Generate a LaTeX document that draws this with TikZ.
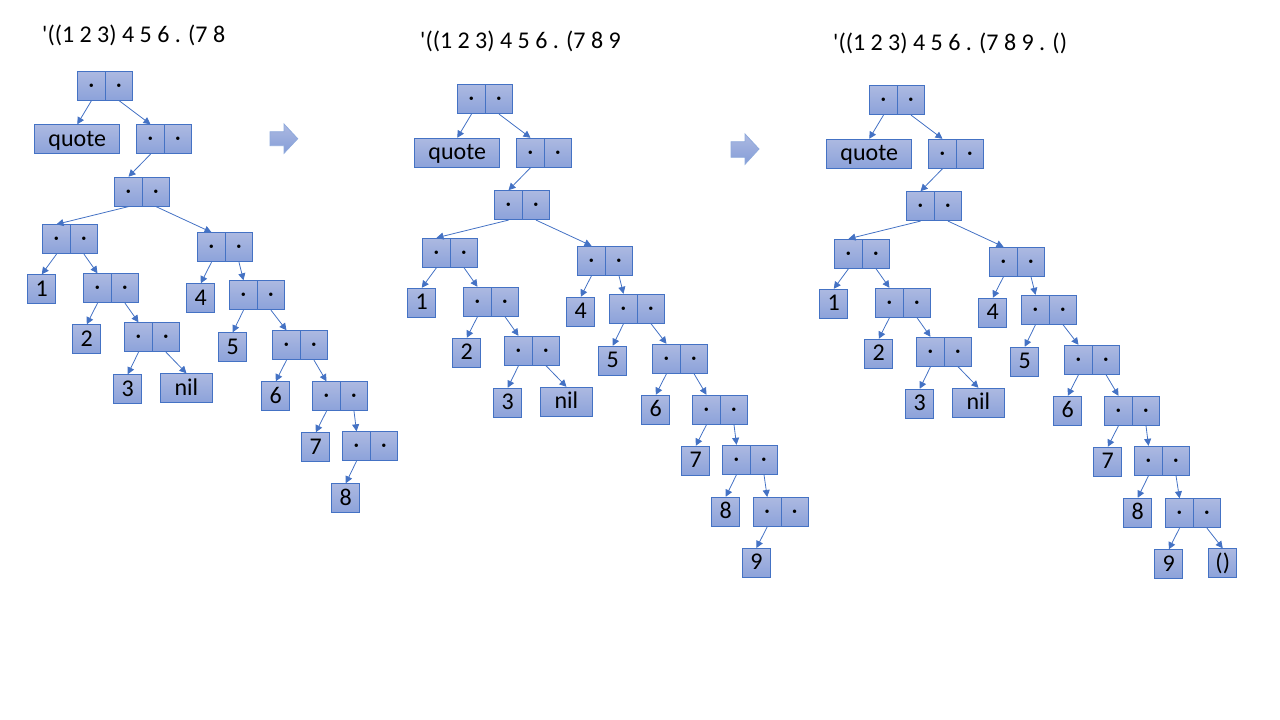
\documentclass[tikz,border=0pt]{standalone}
\usepackage{fontspec}
\setmainfont{Carlito}[Ligatures=TeXOff]
\usetikzlibrary{arrows.meta}
\definecolor{bord}{RGB}{68,114,196}
\definecolor{ftop}{RGB}{172,185,225}
\definecolor{fbot}{RGB}{140,162,218}
\tikzset{
  box/.style={draw=bord, line width=0.9pt, top color=ftop, bottom color=fbot,
    anchor=north west, inner sep=0pt, minimum height=29pt, text=black,
    font=\fontsize{24}{28}\selectfont, text height=14pt, text depth=0pt},
  cellbox/.style={box, minimum width=27.5pt, text height=0pt, text depth=0pt},
  conn/.style={draw=bord, line width=0.8pt, -{Triangle[length=7pt,width=7pt]}},
  title/.style={anchor=base west, inner sep=0pt, font=\fontsize{24}{28}\selectfont},
  blockarrow/.style={draw=bord!60, line width=0.8pt, top color=ftop, bottom color=fbot!90!bord}
}
\newcommand\dotmark{\raisebox{-0.27em}{·}}
\newcommand\cons[3]{%
  \node[cellbox] (#1L) at (#2,#3) {\dotmark};
  \node[cellbox] (#1R) at (#2+27.5,#3) {\dotmark};}
\newcommand\leaf[5][28]{\node[box, minimum width=#1pt] (#2) at (#3,#4) {#5};}
\newcommand\commontree[1]{%
  \cons{#1r}{77.3}{70.7}
  \leaf[85]{#1q}{34.3}{124.3}{quote}
  \cons{#1c2}{136.3}{124.3}
  \cons{#1c3}{114.3}{176.7}
  \cons{#1c4}{42.3}{224.3}
  \cons{#1c5}{197.3}{232.3}
  \leaf{#1n1}{27.3}{274.3}{1}
  \cons{#1c6}{83.3}{273.3}
  \leaf{#1n4}{186.3}{283.3}{4}
  \cons{#1c7}{229.3}{280.3}
  \leaf{#1n2}{72.3}{324.3}{2}
  \cons{#1c8}{124.3}{322.3}
  \leaf{#1n5}{218.3}{332.3}{5}
  \cons{#1c9}{272.3}{330.3}
  \leaf{#1n3}{113.3}{374.3}{3}
  \leaf[51.4]{#1nil}{160.3}{373.3}{nil}
  \leaf{#1n6}{261.3}{381.3}{6}
  \cons{#1c10}{312.3}{381.3}
  \leaf{#1n7}{301.3}{432.3}{7}
  \cons{#1c11}{342.3}{431.3}
  \leaf{#1n8}{331.3}{483.3}{8}
  \draw[conn] (#1rL.south) -- (#1q.north);
  \draw[conn] (#1rR.south) -- (#1c2L.north);
  \draw[conn] (#1c2L.south) -- (#1c3L.north);
  \draw[conn] (#1c3L.south) -- (#1c4L.north);
  \draw[conn] (#1c3R.south) -- (#1c5L.north);
  \draw[conn] (#1c4L.south) -- (#1n1.north);
  \draw[conn] (#1c4R.south) -- (#1c6L.north);
  \draw[conn] (#1c6L.south) -- (#1n2.north);
  \draw[conn] (#1c6R.south) -- (#1c8L.north);
  \draw[conn] (#1c8L.south) -- (#1n3.north);
  \draw[conn] (#1c8R.south) -- (#1nil.north);
  \draw[conn] (#1c5L.south) -- (#1n4.north);
  \draw[conn] (#1c5R.south) -- (#1c7L.north);
  \draw[conn] (#1c7L.south) -- (#1n5.north);
  \draw[conn] (#1c7R.south) -- (#1c9L.north);
  \draw[conn] (#1c9L.south) -- (#1n6.north);
  \draw[conn] (#1c9R.south) -- (#1c10L.north);
  \draw[conn] (#1c10L.south) -- (#1n7.north);
  \draw[conn] (#1c10R.south) -- (#1c11L.north);
  \draw[conn] (#1c11L.south) -- (#1n8.north);
}
\begin{document}
\begin{tikzpicture}[x=1pt, y=-1pt]
\useasboundingbox (0,0) rectangle (1280,720);
% titles
\node[title] (t1) at (42,42.7) {'((1 2 3) 4 5 6 . (7 8};
\node[title] (t2) at (420,48.7) {'((1 2 3) 4 5 6 . (7 8 9};
\node[title] (t3) at (833,50.5) {'((1 2 3) 4 5 6 . (7 8 9 . ()};
% block arrows
\path[blockarrow] (270,131.7) -- (284,131.7) -- (284,124) -- (297.7,138.7)
  -- (284,153.3) -- (284,145.7) -- (270,145.7) -- cycle;
\path[blockarrow] (731,141.7) -- (745,141.7) -- (745,134) -- (759,149)
  -- (745,164.3) -- (745,157.3) -- (731,157.3) -- cycle;
% panel 1
\begin{scope}
  \commontree{a}
\end{scope}
% panel 2
\begin{scope}[shift={(380,13.5)}]
  \commontree{b}
  \cons{bc12}{373}{483.5}
  \leaf{bn9}{362}{534.5}{9}
  \draw[conn] (bc11R.south) -- (bc12L.north);
  \draw[conn] (bc12L.south) -- (bn9.north);
\end{scope}
% panel 3
\begin{scope}[shift={(792,14.5)}]
  \commontree{c}
  \cons{cc12}{373.3}{483.8}
  \leaf{cn9}{362.3}{534.8}{9}
  \leaf{cnp}{416.3}{533.8}{()}
  \draw[conn] (cc11R.south) -- (cc12L.north);
  \draw[conn] (cc12L.south) -- (cn9.north);
  \draw[conn] (cc12R.south) -- (cnp.north);
\end{scope}
\end{tikzpicture}
\end{document}
